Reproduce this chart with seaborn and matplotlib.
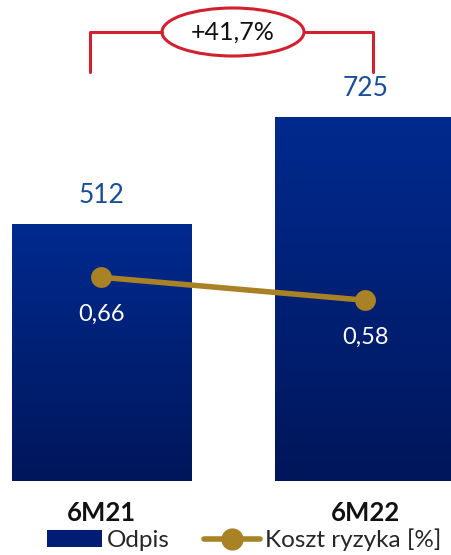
import numpy as np
import pandas as pd
import matplotlib
matplotlib.use("Agg")
import matplotlib.pyplot as plt
import seaborn as sns
from matplotlib.patches import Ellipse, Patch
from matplotlib.lines import Line2D
from matplotlib.colors import LinearSegmentedColormap

# data
periods = ["6M21", "6M22"]
odpis = [512, 725]
koszt_ryzyka = [0.66, 0.58]
change_label = "+41,7%"

BAR_TOP = "#002a8f"
BAR_BOT = "#00165a"
GOLD = "#a98226"
RED = "#d2202f"
LABEL_BLUE = "#1a4e96"

sns.set_theme(style="white")
plt.rcParams["font.family"] = ["Lato", "DejaVu Sans"]

df = pd.DataFrame({"Okres": periods, "Odpis": odpis, "Koszt": koszt_ryzyka})
df["x"] = np.arange(len(df))

W, H = 451, 555
fig = plt.figure(figsize=(W / 100, H / 100), dpi=100)
base = 74  # px from bottom to bar baseline
ax = fig.add_axes([0, base / H, 1, (H - base) / H])

sns.barplot(data=df, x="Okres", y="Odpis", ax=ax, width=0.68,
            color=BAR_TOP, saturation=1)

# vertical gradient fill per bar
cmap = LinearSegmentedColormap.from_list("bar", [BAR_BOT, BAR_TOP])
grad = np.linspace(0, 1, 256).reshape(-1, 1)
for p in ax.patches:
    x0, y0 = p.get_x(), p.get_y()
    im = ax.imshow(grad, cmap=cmap, origin="lower", aspect="auto",
                   extent=[x0, x0 + p.get_width(), y0, y0 + p.get_height()],
                   zorder=p.get_zorder() + 0.1)
    im.set_clip_path(p)
ax.set_xlim(-0.385, 1.326)
ax.set_ylim(0, (H - base) / 0.502)

for i, v in enumerate(df["Odpis"]):
    ax.text(i, v + 31, f"{v}", ha="center", va="bottom",
            fontsize=19, color=LABEL_BLUE)

ax.set_axis_off()

# secondary axis: cost of risk
ax2 = ax.twinx()
sns.lineplot(data=df, x="x", y="Koszt", ax=ax2, color=GOLD, linewidth=4,
             marker="o", markersize=15, markeredgewidth=0, zorder=5)
ax2.set_ylim(-14 / 287.5, (H - base - 14) / 287.5)
ax2.set_xlim(-0.385, 1.326)
for i, v in enumerate(df["Koszt"]):
    ax2.text(i, v - 0.13, f"{v:.2f}".replace(".", ","), ha="center", va="center",
             fontsize=17, color="white")
ax2.set_axis_off()

# category labels
for i, lab in enumerate(df["Okres"]):
    xf = (101.5 + 263.5 * i) / W
    fig.text(xf, 1 - 513 / H, lab, ha="center", va="center",
             fontsize=18.5, fontweight="bold", color="#111111")

# change bracket
cy = 1 - 32 / H
bot = 1 - 72 / H
fig.add_artist(Line2D([90 / W, 90 / W, 162 / W], [bot, cy, cy],
                      transform=fig.transFigure, color=RED, lw=2.2))
fig.add_artist(Line2D([304 / W, 373 / W, 373 / W], [cy, cy, bot],
                      transform=fig.transFigure, color=RED, lw=2.2))
fig.add_artist(Ellipse((233 / W, cy), 142 / W, 48 / H, transform=fig.transFigure,
                       facecolor="white", edgecolor=RED, lw=2.2))
fig.text(233 / W, cy, change_label, ha="center", va="center",
         fontsize=18, color="#111111")

# legend
handles = [Patch(facecolor="#001c74", edgecolor="none"),
           Line2D([0], [0], color=GOLD, lw=4, marker="o", markersize=15)]
fig.legend(handles, ["Odpis", "Koszt ryzyka [%]"], loc="center",
           bbox_to_anchor=(244 / W, 1 - 540 / H), ncol=2, frameon=False,
           fontsize=17.5, handlelength=2.3, handletextpad=0.2, columnspacing=1.4,
           borderaxespad=0, borderpad=0)

fig.savefig("out.png", dpi=100)
